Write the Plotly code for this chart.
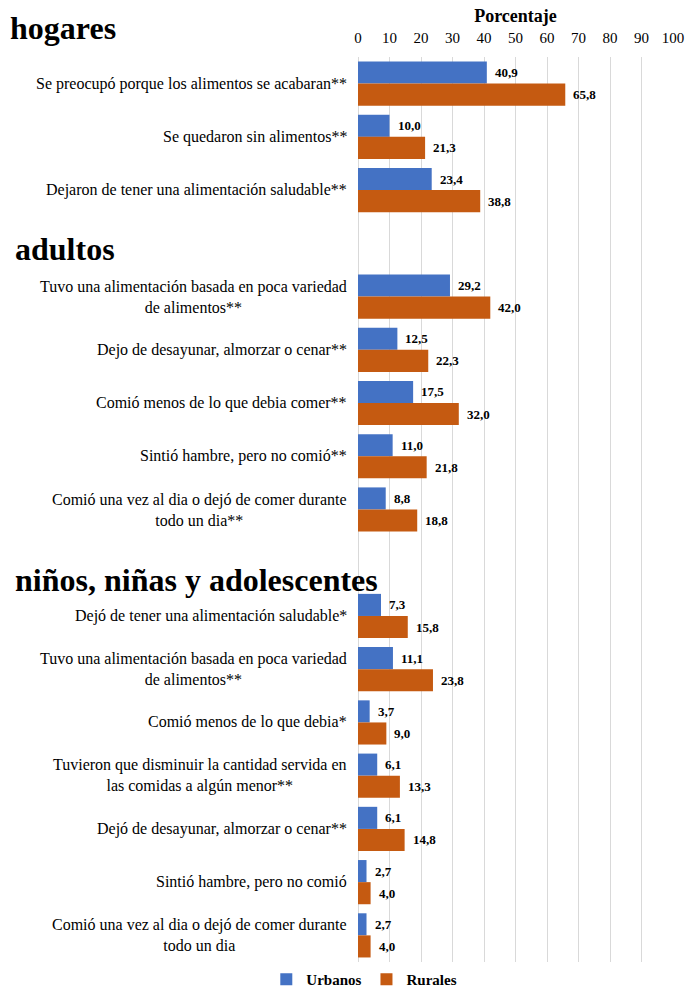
import plotly.graph_objects as go

# ---- data ----
sections = ["hogares", "adultos", "niños, niñas y adolescentes"]

labels_hogares = [
    "Se preocupó porque los alimentos se acabaran**",
    "Se quedaron sin alimentos**",
    "Dejaron de tener una alimentación saludable**",
]
urb_hogares = [40.9, 10.0, 23.4]
rur_hogares = [65.8, 21.3, 38.8]

labels_adultos = [
    "Tuvo una alimentación basada en poca variedad<br>de alimentos**",
    "Dejo de desayunar, almorzar o cenar**",
    "Comió menos de lo que debia comer**",
    "Sintió hambre, pero no comió**",
    "Comió una vez al dia o dejó de comer durante<br>todo un dia**",
]
urb_adultos = [29.2, 12.5, 17.5, 11.0, 8.8]
rur_adultos = [42.0, 22.3, 32.0, 21.8, 18.8]

labels_ninos = [
    "Dejó de tener una alimentación saludable*",
    "Tuvo una alimentación basada en poca variedad<br>de alimentos**",
    "Comió menos de lo que debia*",
    "Tuvieron que disminuir la cantidad servida en<br>las comidas a algún menor**",
    "Dejó de desayunar, almorzar o cenar**",
    "Sintió hambre, pero no comió",
    "Comió una vez al dia o dejó de comer durante<br>todo un dia",
]
urb_ninos = [7.3, 11.1, 3.7, 6.1, 6.1, 2.7, 2.7]
rur_ninos = [15.8, 23.8, 9.0, 13.3, 14.8, 4.0, 4.0]

x_ticks = [0, 10, 20, 30, 40, 50, 60, 70, 80, 90, 100]

# ---- build slot layout (blank slot before each section except the first) ----
groups = [(labels_hogares, urb_hogares, rur_hogares),
          (labels_adultos, urb_adultos, rur_adultos),
          (labels_ninos, urb_ninos, rur_ninos)]
ys, labels, urb, rur, header_slots = [], [], [], [], []
pos = 0
for gi, (lab, u, r) in enumerate(groups):
    if gi > 0:
        header_slots.append(pos)
        pos += 1
    for l, a, b in zip(lab, u, r):
        ys.append(pos); labels.append(l); urb.append(a); rur.append(b)
        pos += 1
n_slots = pos

BLUE = "#4472C4"
ORANGE = "#C55A11"
SERIF = "Liberation Serif, Times New Roman, serif"

W, H = 685, 996
plot_left, plot_right, plot_top, plot_bottom = 358, 673, 57, 962

def fmt(v):
    return f"{v:.1f}".replace(".", ",")

fig = go.Figure()
fig.add_trace(go.Bar(y=ys, x=urb, orientation="h", name="<b>Urbanos</b>",
                     marker=dict(color=BLUE, line=dict(width=0)), hoverinfo="skip"))
fig.add_trace(go.Bar(y=ys, x=rur, orientation="h", name="<b>Rurales</b>",
                     marker=dict(color=ORANGE, line=dict(width=0)), hoverinfo="skip"))

bargap = 0.17
half = (1 - bargap) / 4
annotations = []
for y, u, r in zip(ys, urb, rur):
    annotations.append(dict(x=u, y=y - half, xref="x", yref="y", text="<b>" + fmt(u) + "</b>",
                            showarrow=False, xanchor="left", align="left", xshift=6,
                            font=dict(family=SERIF, size=13, color="#000")))
    annotations.append(dict(x=r, y=y + half, xref="x", yref="y", text="<b>" + fmt(r) + "</b>",
                            showarrow=False, xanchor="left", align="left", xshift=6,
                            font=dict(family=SERIF, size=13, color="#000")))

for y, l in zip(ys, labels):
    annotations.append(dict(x=0, y=y, xref="paper", yref="y", text=l,
                            showarrow=False, xanchor="right", align="center",
                            xshift=-9,
                            font=dict(family=SERIF, size=16, color="#000")))

# section headers
plot_w = plot_right - plot_left
def px_to_paper(px):
    return (px - plot_left) / plot_w

paper_h = H - plot_top
dom_bottom = (H - plot_bottom) / paper_h

annotations.append(dict(x=px_to_paper(8), y=1, xref="paper", yref="paper",
                        text="<b>" + sections[0] + "</b>", showarrow=False,
                        xanchor="left", align="left", yanchor="middle", yshift=29,
                        font=dict(family=SERIF, size=32, color="#000")))
for s, slot, shift in zip(sections[1:], header_slots, [-6, -17]):
    annotations.append(dict(x=px_to_paper(13), y=slot, xref="paper", yref="y",
                            text="<b>" + s + "</b>", showarrow=False,
                            xanchor="left", align="left", yanchor="middle", yshift=shift,
                            font=dict(family=SERIF, size=32, color="#000")))

fig.update_layout(
    width=W, height=H,
    margin=dict(l=plot_left, r=W - plot_right, t=plot_top, b=0),
    barmode="group", bargap=bargap, bargroupgap=0,
    plot_bgcolor="white", paper_bgcolor="white",
    annotations=annotations,
    legend=dict(orientation="h", x=0.02, xanchor="center", xref="paper",
                y=0.0, yanchor="bottom",
                font=dict(family=SERIF, size=15, color="#000"),
                itemwidth=30, traceorder="normal"),
    showlegend=True,
)
fig.update_xaxes(range=[0, 100], side="top", tickvals=x_ticks,
                 ticktext=[str(t) for t in x_ticks],
                 showgrid=True, gridcolor="#D9D9D9", gridwidth=1,
                 zeroline=True, zerolinecolor="#D9D9D9", zerolinewidth=1,
                 showline=False, ticks="", ticklabelstandoff=10,
                 tickfont=dict(family=SERIF, size=15, color="#000"),
                 title=dict(text="<b>Porcentaje</b>", standoff=2,
                            font=dict(family=SERIF, size=18, color="#000")),
                 fixedrange=True)
fig.update_yaxes(range=[n_slots - 0.5, -0.5], domain=[dom_bottom, 1],
                 showticklabels=False,
                 showgrid=False, zeroline=False, showline=False, ticks="",
                 fixedrange=True)

fig.write_html("out.html")
